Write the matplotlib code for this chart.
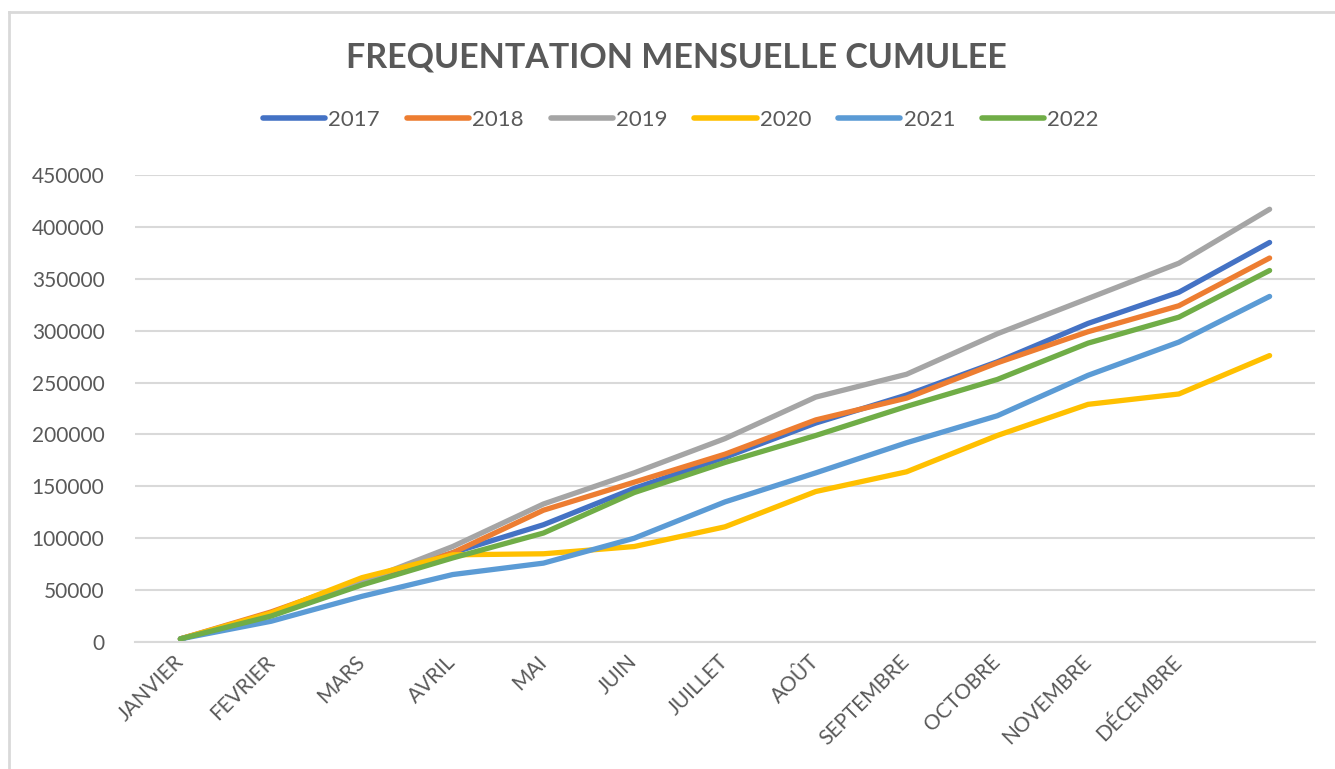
import matplotlib.pyplot as plt
from matplotlib.lines import Line2D

months = ['JANVIER', 'FEVRIER', 'MARS', 'AVRIL', 'MAI', 'JUIN', 'JUILLET',
          'AOÛT', 'SEPTEMBRE', 'OCTOBRE', 'NOVEMBRE', 'DÉCEMBRE', '']

y2017 = [3000, 26000, 56000, 86000, 113000, 148000, 178000, 211000, 238000, 270000, 307000, 337000, 385000]
y2018 = [3000, 29000, 60000, 86000, 127000, 154000, 181000, 214000, 235000, 269000, 299000, 324000, 370000]
y2019 = [3000, 27000, 58000, 92000, 133000, 163000, 196000, 236000, 258000, 297000, 331000, 365000, 417000]
y2020 = [3000, 28000, 62000, 84000, 85000, 92000, 111000, 145000, 164000, 199000, 229000, 239000, 276000]
y2021 = [3000, 20000, 44000, 65000, 76000, 100000, 135000, 163000, 192000, 218000, 257000, 289000, 333000]
y2022 = [3000, 25000, 55000, 81000, 105000, 144000, 173000, 199000, 227000, 253000, 288000, 313000, 358000]

series = [('2017', y2017, '#4472C4'), ('2018', y2018, '#ED7D31'),
          ('2019', y2019, '#A5A5A5'), ('2020', y2020, '#FFC000'),
          ('2021', y2021, '#5B9BD5'), ('2022', y2022, '#70AD47')]

plt.rcParams['font.family'] = ['Lato', 'DejaVu Sans']
text_col = '#595959'

fig = plt.figure(figsize=(13.35, 7.69), dpi=100)
ax = fig.add_axes([135 / 1335, 1 - 642 / 769, 1180 / 1335, 467 / 769])

x = list(range(len(months)))
for name, vals, col in series:
    ax.plot(x, vals, color=col, lw=3.8, solid_capstyle='round',
            solid_joinstyle='round', label=name)

ax.set_xlim(-0.5, 12.5)
ax.set_ylim(0, 450000)
ax.set_yticks(range(0, 450001, 50000))
ax.set_yticklabels([str(v) for v in range(0, 450001, 50000)])
ax.set_xticks(x)
ax.set_xticklabels(months, rotation=45, ha='right', va='center',
                   rotation_mode='anchor')
ax.tick_params(axis='both', length=0, colors=text_col, labelsize=15)
ax.tick_params(axis='y', pad=22)
ax.tick_params(axis='x', pad=12)
ax.grid(axis='y', color='#D9D9D9', lw=1.5)
ax.set_axisbelow(True)
for s in ['top', 'right', 'left']:
    ax.spines[s].set_visible(False)
ax.spines['bottom'].set_color('#D9D9D9')
ax.spines['bottom'].set_linewidth(1.5)

fig.text(0.5065, 1 - 57 / 769, 'FREQUENTATION MENSUELLE CUMULEE',
         ha='center', va='center', fontsize=24.5, fontweight='bold', color=text_col)

handles = [Line2D([0], [0], color=c, lw=4, solid_capstyle='round') for _, _, c in series]
fig.legend(handles, [n for n, _, _ in series], loc='center',
           bbox_to_anchor=(0.510, 1 - 120 / 769), ncol=6, frameon=False,
           fontsize=16, labelcolor=text_col, handlelength=2.8,
           handletextpad=0.15, columnspacing=1.2)

# chart border (top and left edges)
fig.add_artist(Line2D([9 / 1335, 9 / 1335], [0, 1 - 12 / 769], color='#D9D9D9', lw=2,
                      transform=fig.transFigure))
fig.add_artist(Line2D([9 / 1335, 1], [1 - 12 / 769, 1 - 12 / 769], color='#D9D9D9', lw=2,
                      transform=fig.transFigure))

fig.savefig('out.png', dpi=100)
